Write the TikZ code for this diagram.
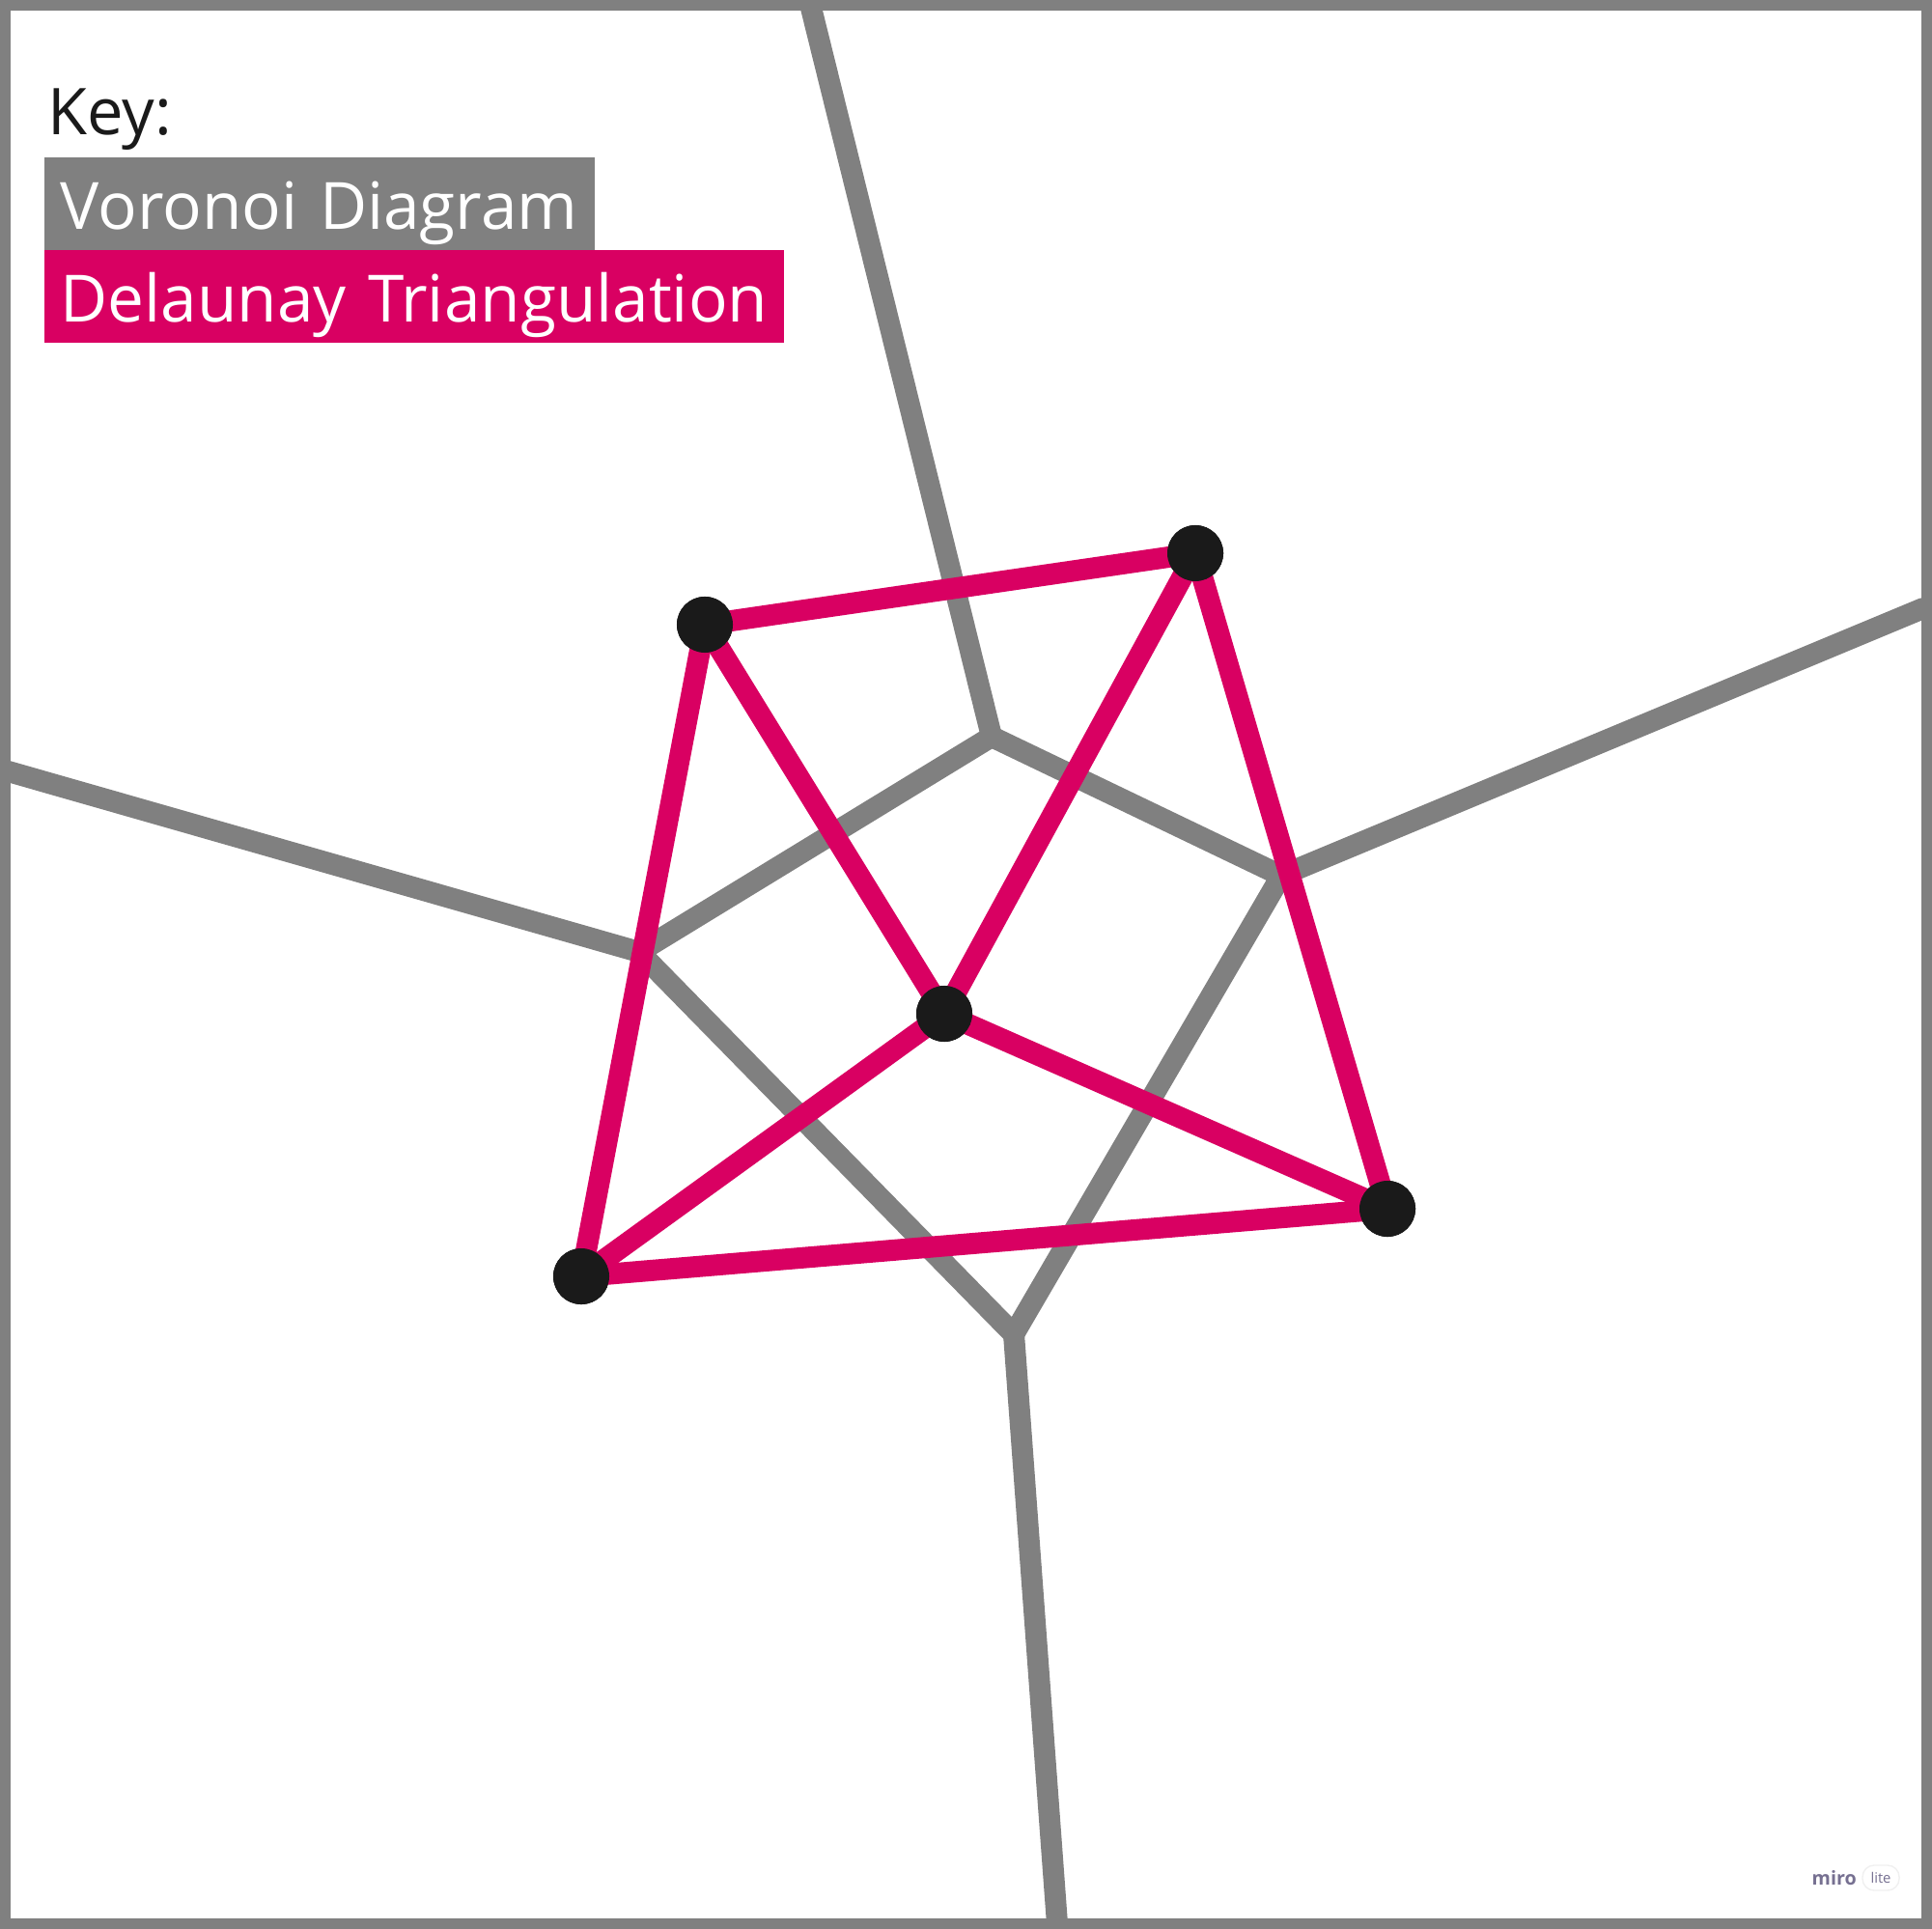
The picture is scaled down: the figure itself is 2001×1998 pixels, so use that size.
\documentclass[tikz,border=0pt]{standalone}
\usepackage{fontspec}
\setmainfont{Open Sans}
\usetikzlibrary{positioning}
\definecolor{voronoigray}{RGB}{128,128,128}
\definecolor{delaunaypink}{RGB}{217,0,98}
\definecolor{sitedark}{RGB}{26,26,26}
\definecolor{miropurple}{RGB}{118,112,145}

\begin{document}
\begin{tikzpicture}[
    x=0.01cm, y=-0.01cm,
    site/.style={circle, fill=sitedark, inner sep=0pt, minimum size=0.58cm},
    vedge/.style={draw=voronoigray, line width=0.22cm, line cap=round},
    dedge/.style={draw=delaunaypink, line width=0.22cm},
    keybox/.style={anchor=north west, inner xsep=0.17cm, inner ysep=0.05cm,
                   text height=0.7cm, text depth=0.16cm, align=left,
                   text=white, font=\fontsize{19.2}{23}\selectfont}
]
\useasboundingbox (0,0) rectangle (2001,1998);

% voronoi vertices and where the cells leave the frame
\coordinate (v1) at (1027,763);
\coordinate (v2) at (1327,907);
\coordinate (v3) at (662,986);
\coordinate (v4) at (1050,1382);
\coordinate (ctop)    at (838,0);
\coordinate (cright)  at (1992,630);
\coordinate (cleft)   at (5,798);
\coordinate (cbottom) at (1095,1993);

% sites
\node[site] (s1) at (730,647)  {};
\node[site] (s2) at (1238,573) {};
\node[site] (s3) at (978,1050) {};
\node[site] (s4) at (602,1322) {};
\node[site] (s5) at (1437,1252) {};

\draw[vedge] (ctop) -- (v1);
\draw[vedge] (v1) -- (v2);
\draw[vedge] (v1) -- (v3);
\draw[vedge] (v2) -- (cright);
\draw[vedge] (v2) -- (v4);
\draw[vedge] (cleft) -- (v3);
\draw[vedge] (v3) -- (v4);
\draw[vedge] (v4) -- (cbottom);

\draw[dedge] (s1.center) -- (s2.center);
\draw[dedge] (s1.center) -- (s3.center);
\draw[dedge] (s1.center) -- (s4.center);
\draw[dedge] (s2.center) -- (s3.center);
\draw[dedge] (s2.center) -- (s5.center);
\draw[dedge] (s3.center) -- (s4.center);
\draw[dedge] (s3.center) -- (s5.center);
\draw[dedge] (s4.center) -- (s5.center);

% sites again on top of the edges
\foreach \s in {s1,s2,s3,s4,s5}
  \fill[sitedark] (\s) circle (0.29cm);

% frame
\draw[voronoigray, line width=0.11cm] (5.5,5.5) rectangle (1995.5,1992.5);

% key
\node[anchor=base west, inner sep=0pt, text=sitedark,
      font=\fontsize{19}{23}\selectfont] (keylabel) at (49,140) {Key:};
\node[keybox, fill=voronoigray, text width=5.36cm] (keyvoronoi) at (45,162) {\mbox{Voronoi Diagram}};
\node[keybox, fill=delaunaypink, text width=7.32cm] (keydelaunay) at (45,258) {\mbox{Delaunay Triangulation}};

% miro lite mark
\node[anchor=base west, inner sep=0pt, text=miropurple,
      font=\fontsize{5.6}{6}\selectfont\bfseries] (miro) at (1876,1952) {miro};
\node[draw=black!6, fill=white, rounded corners=0.12cm, minimum width=0.38cm,
      minimum height=0.26cm, inner sep=0pt, text=miropurple,
      font=\fontsize{4.2}{5}\selectfont] (lite) at (1948,1945) {lite};
\end{tikzpicture}
\end{document}
